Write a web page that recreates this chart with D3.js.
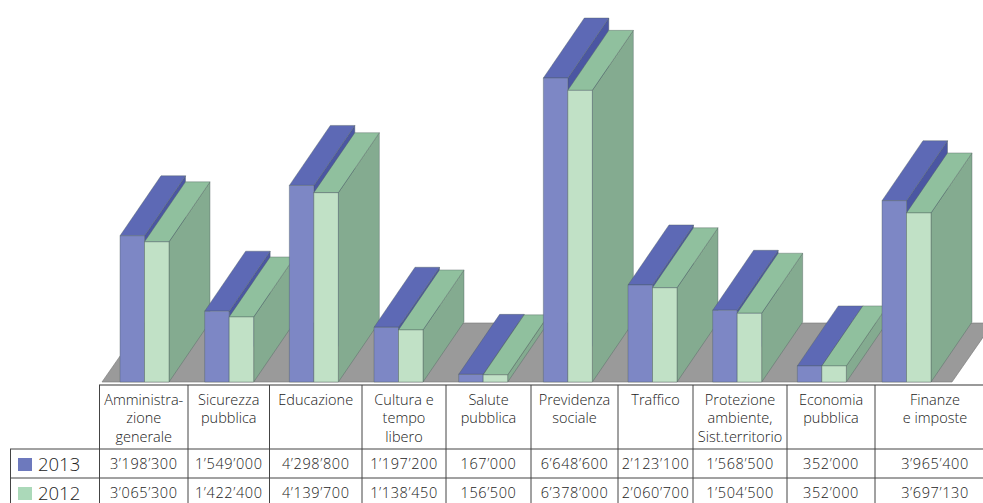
<!DOCTYPE html>
<html>
<head>
<meta charset="utf-8">
<script src="https://cdn.jsdelivr.net/npm/d3@7"></script>
<style>
  html, body { margin: 0; padding: 0; background: #fff; }
  svg { display: block; }
  text { font-family: "Open Sans", "Noto Sans", sans-serif; font-weight: 300; fill: #222; }
</style>
</head>
<body>
<div id="chart"></div>
<script>
// Data
var categories = ["Amministrazione generale", "Sicurezza pubblica", "Educazione", "Cultura e tempo libero",
  "Salute pubblica", "Previdenza sociale", "Traffico", "Protezione ambiente", "Economia pubblica", "Finanze e imposte"];
var headerLines = [
  ["Amministra-", "zione", "generale"], ["Sicurezza", "pubblica"], ["Educazione"], ["Cultura e", "tempo", "libero"],
  ["Salute", "pubblica"], ["Previdenza", "sociale"], ["Traffico"], ["Protezione", "ambiente,", "Sist.territorio"],
  ["Economia", "pubblica"], ["Finanze", "e imposte"]
];
var values2013 = [3198300, 1549000, 4298800, 1197200, 167000, 6648600, 2123100, 1568500, 352000, 3965400];
var values2012 = [3065300, 1422400, 4139700, 1138450, 156500, 6378000, 2060700, 1504500, 352000, 3697130];
var years = ["2013", "2012"];

var svgWidth = 983;
var svgHeight = 503;

// Layout
var baseY = 382;
var topY = 78;
var depth = { x: 41, y: -60 };
var barWidth = 24.5;
var columnEdges = [99.5, 188, 269.5, 362, 446, 531, 618, 693, 787, 875, 995];
var rowLines = [385, 449, 478];
var valueBaselines = [469, 498];

var colours = [
  { front: "#7d87c5", top: "#5d69b5", side: "#4b56a2", legend: "#6d79bd" },
  { front: "#c1e1c6", top: "#90c09e", side: "#84ab90", legend: "#abd9b9" }
];

var svg = d3.select("#chart")
  .append("svg")
  .attr("width", svgWidth)
  .attr("height", svgHeight);

// Scales
var yScale = d3.scaleLinear()
  .domain([0, d3.max(values2013)])
  .range([baseY, topY]);

var xScale = d3.scalePoint()
  .domain(categories)
  .range([120, 882]);

var line = d3.line();

// Floor
svg.append("path")
  .attr("d", line([[102, baseY], [102 + depth.x, baseY + depth.y + 1], [993, baseY + depth.y + 1], [952, baseY]]) + "Z")
  .attr("fill", "#9a9a9a")
  .attr("stroke", "#777")
  .attr("stroke-width", 0.6);

// One 3D box: side, top and front faces
function drawBox(g, x, value, colour) {
  var y = yScale(value);
  var x2 = x + barWidth;
  var faces = [
    { fill: colour.side, pts: [[x2, y], [x2 + depth.x, y + depth.y], [x2 + depth.x, baseY + depth.y], [x2, baseY]] },
    { fill: colour.top, pts: [[x, y], [x + depth.x, y + depth.y], [x2 + depth.x, y + depth.y], [x2, y]] },
    { fill: colour.front, pts: [[x, y], [x2, y], [x2, baseY], [x, baseY]] }
  ];
  g.selectAll(null)
    .data(faces)
    .enter()
    .append("path")
    .attr("d", d => line(d.pts) + "Z")
    .attr("fill", d => d.fill)
    .attr("stroke", "#4c5c5c")
    .attr("stroke-opacity", 0.55)
    .attr("stroke-width", 0.7)
    .attr("stroke-linejoin", "round");
}

// Left to right so each group covers the side of the one before it
categories.forEach(function (cat, i) {
  var g = svg.append("g");
  drawBox(g, xScale(cat), values2013[i], colours[0]);
  drawBox(g, xScale(cat) + barWidth, values2012[i], colours[1]);
});

// Table lines
var grid = svg.append("g")
  .attr("stroke", "#444")
  .attr("stroke-width", 1);

grid.append("line").attr("x1", 99).attr("x2", svgWidth).attr("y1", rowLines[0]).attr("y2", rowLines[0]).attr("stroke", "#777").attr("stroke-width", 1.5);
grid.append("line").attr("x1", 10).attr("x2", svgWidth).attr("y1", rowLines[1]).attr("y2", rowLines[1]);
grid.append("line").attr("x1", 10).attr("x2", svgWidth).attr("y1", rowLines[2]).attr("y2", rowLines[2]);
grid.append("line").attr("x1", 10.5).attr("x2", 10.5).attr("y1", rowLines[1]).attr("y2", svgHeight);

grid.selectAll(null)
  .data(columnEdges.slice(0, -1))
  .enter()
  .append("line")
  .attr("x1", d => d)
  .attr("x2", d => d)
  .attr("y1", rowLines[0])
  .attr("y2", svgHeight);

function colCentre(i) {
  return (columnEdges[i] + columnEdges[i + 1]) / 2;
}

// Header labels
headerLines.forEach(function (lines, i) {
  svg.selectAll(null)
    .data(lines)
    .enter()
    .append("text")
    .attr("x", colCentre(i))
    .attr("y", (d, k) => 405 + k * 18.3)
    .attr("text-anchor", "middle")
    .attr("font-size", "14.5px")
    .text(d => d);
});

// Value rows, with ’ as thousands separator
var fmt = d3.formatLocale({ decimal: ".", thousands: "’", grouping: [3], currency: ["", ""] }).format(",");

[values2013, values2012].forEach(function (row, r) {
  svg.selectAll(null)
    .data(row)
    .enter()
    .append("text")
    .attr("x", (d, i) => colCentre(i))
    .attr("y", valueBaselines[r])
    .attr("text-anchor", "middle")
    .attr("font-size", "14.5px")
    .attr("letter-spacing", "0.6px")
    .text(d => fmt(d));

  svg.append("rect")
    .attr("x", 18)
    .attr("y", valueBaselines[r] - 11)
    .attr("width", 14)
    .attr("height", 13)
    .attr("fill", colours[r].legend);

  svg.append("text")
    .attr("x", 38)
    .attr("y", valueBaselines[r] + 2)
    .attr("font-size", "18.5px")
    .text(years[r]);
});
</script>
</body>
</html>
